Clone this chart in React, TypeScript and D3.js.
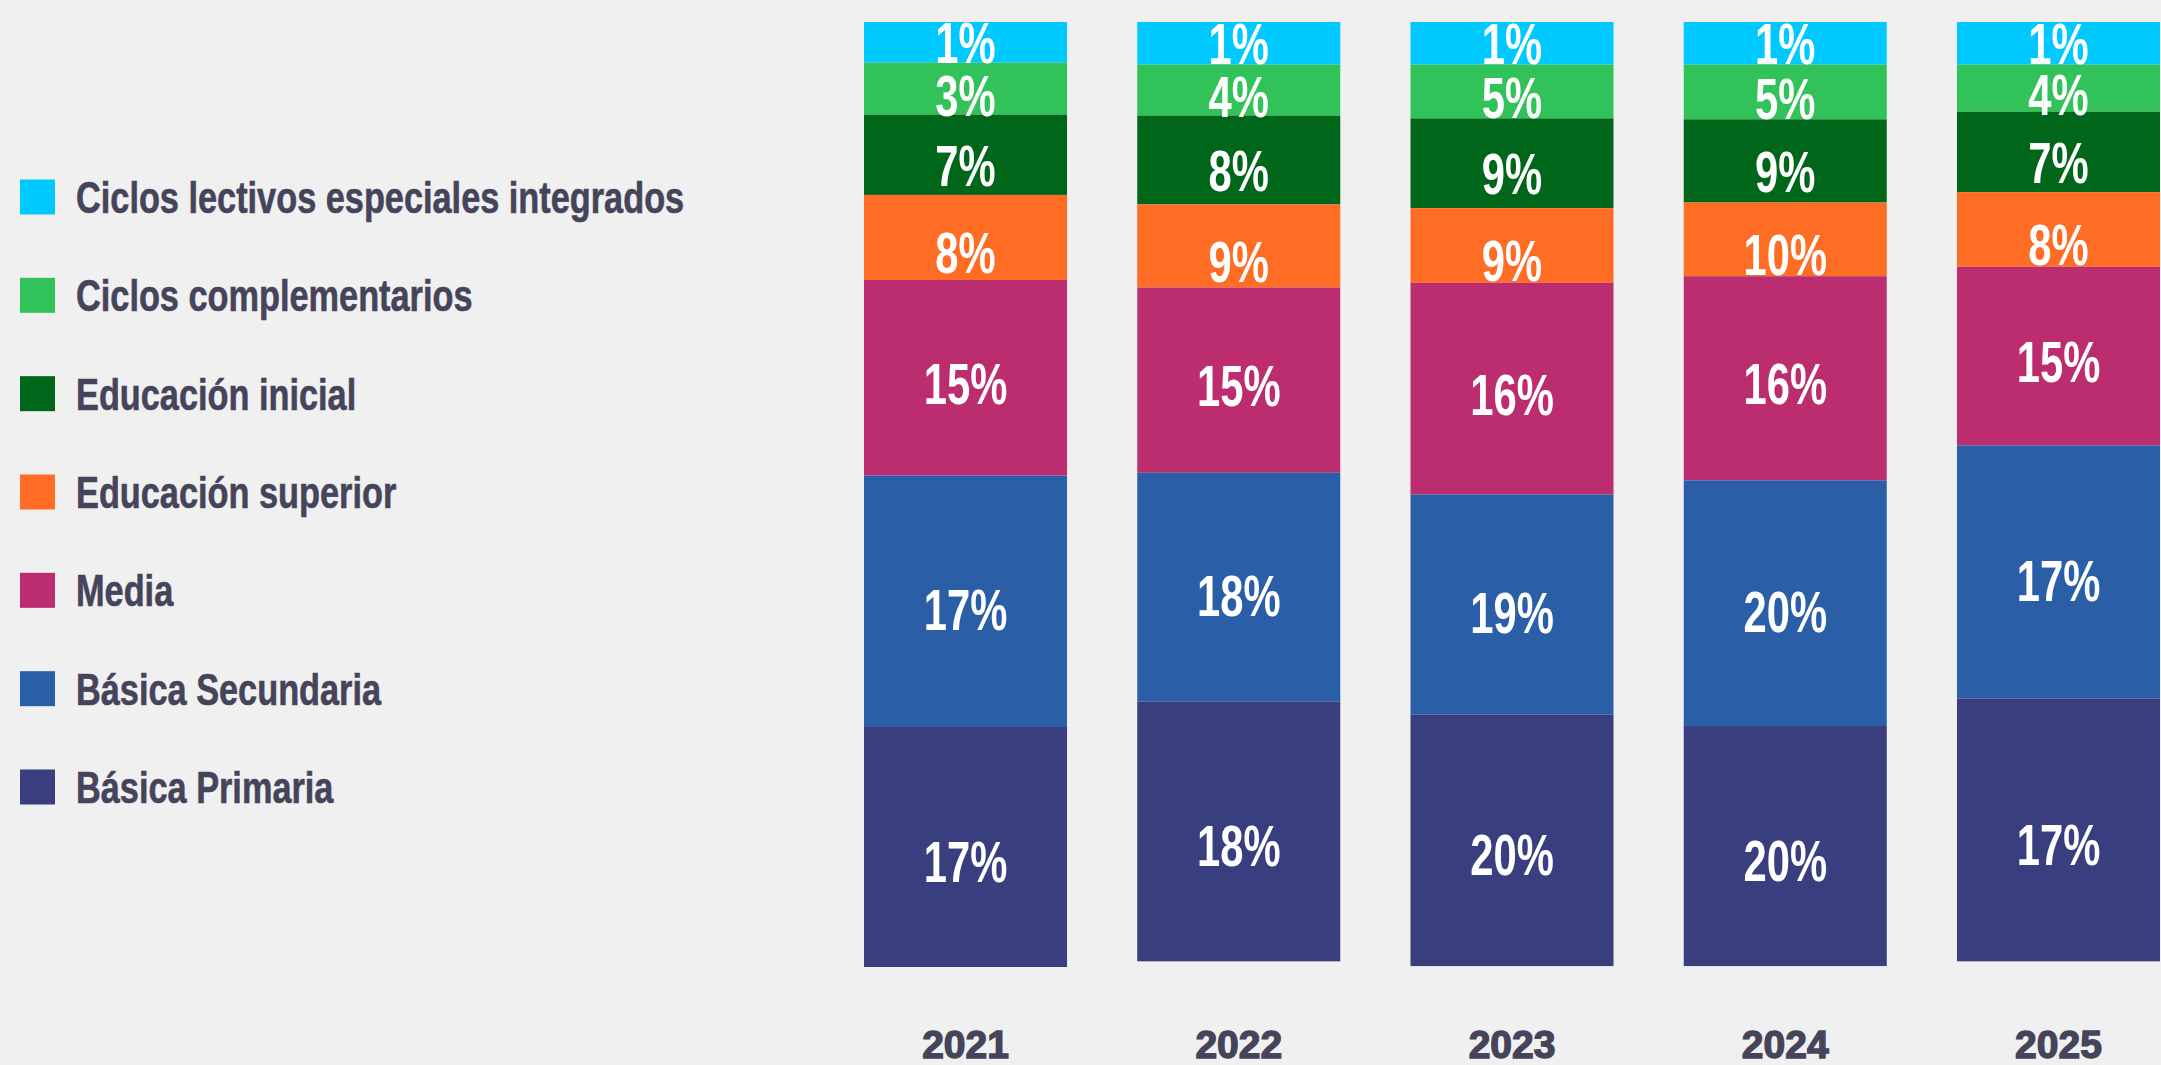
import React, { useEffect, useRef } from 'react';
import * as d3 from 'd3';

const years = ['2021', '2022', '2023', '2024', '2025'];

const categories = [
  'Ciclos lectivos especiales integrados',
  'Ciclos complementarios',
  'Educación inicial',
  'Educación superior',
  'Media',
  'Básica Secundaria',
  'Básica Primaria',
];

// share of each bar's height taken by the segment, read top to bottom
const ciclosLectivos = [4.3, 4.5, 4.5, 4.5, 4.5];
const ciclosComplementarios = [5.5, 5.4, 5.7, 5.8, 5.0];
const educacionInicial = [8.5, 9.4, 9.5, 8.8, 8.5];
const educacionSuperior = [9.0, 8.8, 7.9, 7.8, 7.9];
const media = [20.7, 19.6, 22.4, 21.6, 18.9];
const basicaSecundaria = [26.6, 24.2, 23.3, 26.0, 26.8];
const basicaPrimaria = [25.4, 27.5, 26.6, 25.4, 27.8];

// percentages printed on the segments
const ciclosLectivosPct = [1, 1, 1, 1, 1];
const ciclosComplementariosPct = [3, 4, 5, 5, 4];
const educacionInicialPct = [7, 8, 9, 9, 7];
const educacionSuperiorPct = [8, 9, 9, 10, 8];
const mediaPct = [15, 15, 16, 16, 15];
const basicaSecundariaPct = [17, 18, 19, 20, 17];
const basicaPrimariaPct = [17, 18, 20, 20, 17];

const shares = [ciclosLectivos, ciclosComplementarios, educacionInicial, educacionSuperior, media, basicaSecundaria, basicaPrimaria];
const pcts = [ciclosLectivosPct, ciclosComplementariosPct, educacionInicialPct, educacionSuperiorPct, mediaPct, basicaSecundariaPct, basicaPrimariaPct];

const colors = ['#00c9ff', '#32c25a', '#006619', '#ff6d24', '#bc2d6f', '#2a5fa8', '#383e7e'];
// labels sit a little below the middle of most segments
const labelShift = [0, 6, 10, 15, 5, 8, 14];

const W = 2161;
const H = 1065;
const BG = '#f0f0f0';
const INK = '#45445a';

export default function App() {
  const ref = useRef<HTMLDivElement | null>(null);

  useEffect(() => {
    if (!ref.current) return;
    document.body.style.margin = '0';
    document.body.style.background = BG;

    d3.select(ref.current).selectAll('*').remove();

    const svg = d3.select(ref.current)
      .append('svg')
      .attr('width', W)
      .attr('height', H)
      .style('display', 'block')
      .style('background', BG);

    const rows = years.map((year, i) => {
      const r: any = { year };
      categories.forEach((c, k) => { r[c] = shares[k][i]; });
      return r;
    });
    const stacked = d3.stack<any>().keys(categories)(rows);

    const x = d3.scaleBand().domain(years).range([864, 2160]).paddingInner(0.257).paddingOuter(0);
    const y = d3.scaleLinear().domain([0, 100]).range([22, 967]);

    const layers = svg.append('g')
      .selectAll('g')
      .data(stacked)
      .join('g')
      .attr('fill', (d, i) => colors[i]);

    layers.selectAll('rect')
      .data(d => d)
      .join('rect')
      .attr('x', d => x(d.data.year)!)
      .attr('width', x.bandwidth())
      .attr('y', d => y(d[0]))
      .attr('height', d => y(d[1]) - y(d[0]));

    // segment labels
    const labels = svg.append('g');
    stacked.forEach((layer, k) => {
      layer.forEach((d, i) => {
        const cx = x(d.data.year)! + x.bandwidth() / 2;
        const cy = (y(d[0]) + y(d[1])) / 2 + labelShift[k];
        labels.append('text')
          .attr('transform', `translate(${cx},${cy}) scale(0.72,1)`)
          .attr('text-anchor', 'middle')
          .attr('dy', '0.36em')
          .style('font-family', '"Liberation Sans", Arial, sans-serif')
          .style('font-weight', 700)
          .style('font-size', '58px')
          .style('fill', '#ffffff')
          .text(`${pcts[k][i]}%`);
      });
    });

    // year axis
    const axis = svg.append('g')
      .attr('transform', `translate(0,${y(100)})`)
      .call(d3.axisBottom(x).tickSize(0).tickPadding(63));
    axis.select('.domain').remove();
    axis.selectAll('text')
      .style('font-family', '"Liberation Sans", Arial, sans-serif')
      .style('font-weight', 700)
      .style('font-size', '39px')
      .style('fill', INK)
      .style('stroke', INK)
      .style('stroke-width', 1.4);

    // legend
    const ly = d3.scalePoint().domain(categories).range([197, 787]);
    const legend = svg.append('g')
      .selectAll('g')
      .data(categories)
      .join('g')
      .attr('transform', d => `translate(0,${ly(d)})`);

    legend.append('rect')
      .attr('x', 20)
      .attr('y', -17.5)
      .attr('width', 35)
      .attr('height', 35)
      .attr('fill', (d, i) => colors[i]);

    legend.append('text')
      .attr('transform', 'translate(76,0) scale(0.78,1)')
      .attr('dy', '0.36em')
      .style('font-family', '"Liberation Sans", Arial, sans-serif')
      .style('font-weight', 700)
      .style('font-size', '44px')
      .style('fill', INK)
      .style('stroke', INK)
      .style('stroke-width', 0.6)
      .text(d => d);
  }, []);

  return <div ref={ref} style={{ width: W, height: H, background: BG }}></div>;
}
